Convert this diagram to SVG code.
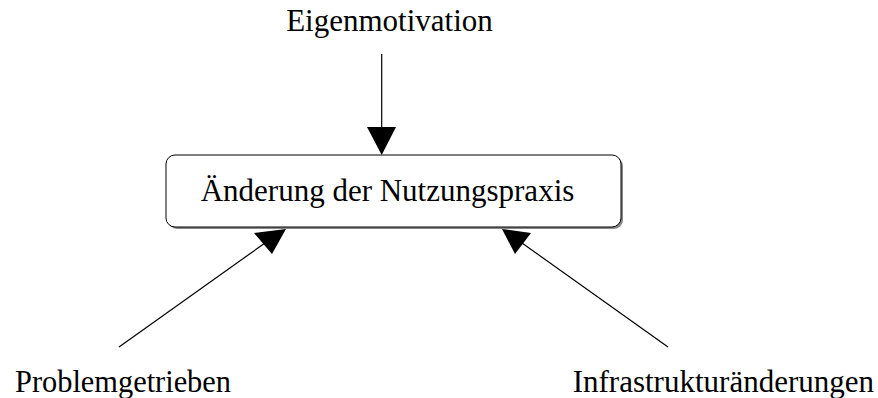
<svg xmlns="http://www.w3.org/2000/svg" width="878" height="398" viewBox="0 0 878 398">
  <style>
    .lbl { font-family: "Liberation Serif", "Times New Roman", serif; font-size: 31px; fill: #000; }
    .edge { stroke: #000; stroke-width: 1.2; fill: none; }
    .head { fill: #000; stroke: none; }
  </style>
  <rect width="878" height="398" fill="#fff"/>

  <g id="eigenmotivation">
    <text class="lbl" x="389.5" y="31" text-anchor="middle">Eigenmotivation</text>
  </g>

  <g id="aenderung">
    <rect x="168" y="157" width="455" height="72" rx="9" ry="9" fill="#888" stroke="none"/>
    <rect x="166" y="155" width="455" height="72" rx="9" ry="9" fill="#fff" stroke="#000" stroke-width="1"/>
    <text class="lbl" x="387.5" y="201" text-anchor="middle">Änderung der Nutzungspraxis</text>
  </g>

  <g id="problemgetrieben">
    <text class="lbl" x="15" y="391.5" textLength="216" lengthAdjust="spacingAndGlyphs">Problemgetrieben</text>
  </g>

  <g id="infrastruktur">
    <text class="lbl" x="874" y="391.5" text-anchor="end">Infrastrukturänderungen</text>
  </g>

  <g id="connectors">
    <line class="edge" x1="381.7" y1="54" x2="381.7" y2="128"/>
    <polygon class="head" points="367,127 396,127 381.7,155"/>

    <line class="edge" x1="119" y1="347" x2="265" y2="243"/>
    <polygon class="head" points="286,229 254,233 272,254"/>

    <line class="edge" x1="668" y1="347" x2="522" y2="243"/>
    <polygon class="head" points="502,229 531,233 515,254"/>
  </g>
</svg>
